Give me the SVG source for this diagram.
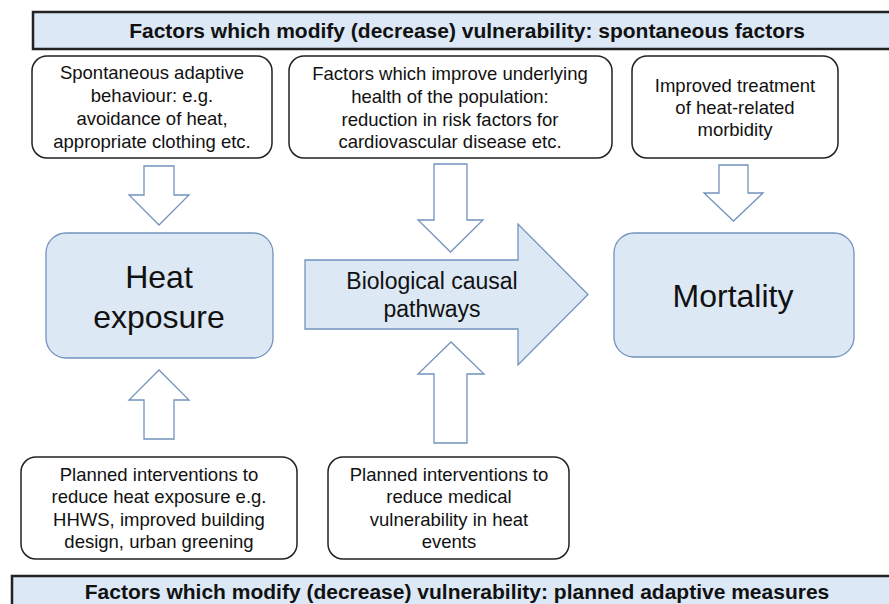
<svg xmlns="http://www.w3.org/2000/svg" width="889" height="604" viewBox="0 0 889 604">
<style>
text{font-family:"Liberation Sans",Arial,sans-serif;fill:#111;text-anchor:middle}
.banner{fill:#dce8f5;stroke:#222;stroke-width:2.5}
.btitle{font-size:21px;font-weight:bold}
.box{fill:#fff;stroke:#222;stroke-width:1.5}
.bt{font-size:18.5px}
.node{fill:#dde8f5;stroke:#7393bd;stroke-width:1.3}
.arrow{fill:#fff;stroke:#7393bd;stroke-width:1.3}
.big{fill:#dde8f5;stroke:#7393bd;stroke-width:1.3}
</style>
<rect width="889" height="604" fill="#fff"/>
<g id="banner-top">
<rect class="banner" x="33" y="12" width="870" height="37"/>
<text class="btitle" x="467" y="38">Factors which modify (decrease) vulnerability: spontaneous factors</text>
</g>
<g id="banner-bottom">
<rect class="banner" x="12" y="576" width="890" height="40"/>
<text class="btitle" x="457" y="599">Factors which modify (decrease) vulnerability: planned adaptive measures</text>
</g>
<g id="box-spontaneous">
<rect class="box" x="32" y="56" width="240" height="102" rx="15"/>
<text class="bt" x="152" y="79">Spontaneous adaptive</text>
<text class="bt" x="152" y="102">behaviour: e.g.</text>
<text class="bt" x="152" y="125">avoidance of heat,</text>
<text class="bt" x="152" y="148">appropriate clothing etc.</text>
</g>
<g id="box-health">
<rect class="box" x="289" y="56" width="323" height="102" rx="15"/>
<text class="bt" x="450" y="80">Factors which improve underlying</text>
<text class="bt" x="450" y="103">health of the population:</text>
<text class="bt" x="450" y="126">reduction in risk factors for</text>
<text class="bt" x="450" y="148">cardiovascular disease etc.</text>
</g>
<g id="box-treatment">
<rect class="box" x="632" y="56" width="206" height="102" rx="15"/>
<text class="bt" x="735" y="92">Improved treatment</text>
<text class="bt" x="735" y="114">of heat-related</text>
<text class="bt" x="735" y="136">morbidity</text>
</g>
<g id="node-heat">
<rect class="node" x="46" y="233" width="227" height="125" rx="20"/>
<text x="159" y="288" font-size="32">Heat</text>
<text x="159" y="328" font-size="32">exposure</text>
</g>
<g id="node-biological">
<polygon class="big" points="305,260 518,260 518,224 588,294.5 518,365 518,329 305,329"/>
<text x="432" y="289" font-size="23">Biological causal</text>
<text x="432" y="317" font-size="23">pathways</text>
</g>
<g id="node-mortality">
<rect class="node" x="614" y="233" width="240" height="124" rx="20"/>
<text x="733" y="307" font-size="32">Mortality</text>
</g>
<g id="box-planned-exposure">
<rect class="box" x="21" y="457" width="276" height="102" rx="15"/>
<text class="bt" x="159" y="481">Planned interventions to</text>
<text class="bt" x="159" y="503">reduce heat exposure e.g.</text>
<text class="bt" x="159" y="526">HHWS, improved building</text>
<text class="bt" x="159" y="548">design, urban greening</text>
</g>
<g id="box-planned-medical">
<rect class="box" x="328" y="457" width="241" height="102" rx="15"/>
<text class="bt" x="449" y="481">Planned interventions to</text>
<text class="bt" x="449" y="503">reduce medical</text>
<text class="bt" x="449" y="526">vulnerability in heat</text>
<text class="bt" x="449" y="548">events</text>
</g>
<g id="connectors">
<polygon class="arrow" points="144,166 174,166 174,195 189,195 159,225 129,195 144,195"/>
<polygon class="arrow" points="434,164 467,164 467,220 483,220 450.5,252 418,220 434,220"/>
<polygon class="arrow" points="719,165 748,165 748,193 763,193 733.5,221 704,193 719,193"/>
<polygon class="arrow" points="144,439 174,439 174,400 189,400 159,370 129,400 144,400"/>
<polygon class="arrow" points="434,443 467,443 467,374 484,374 451,342 418,374 434,374"/>
</g>
</svg>
